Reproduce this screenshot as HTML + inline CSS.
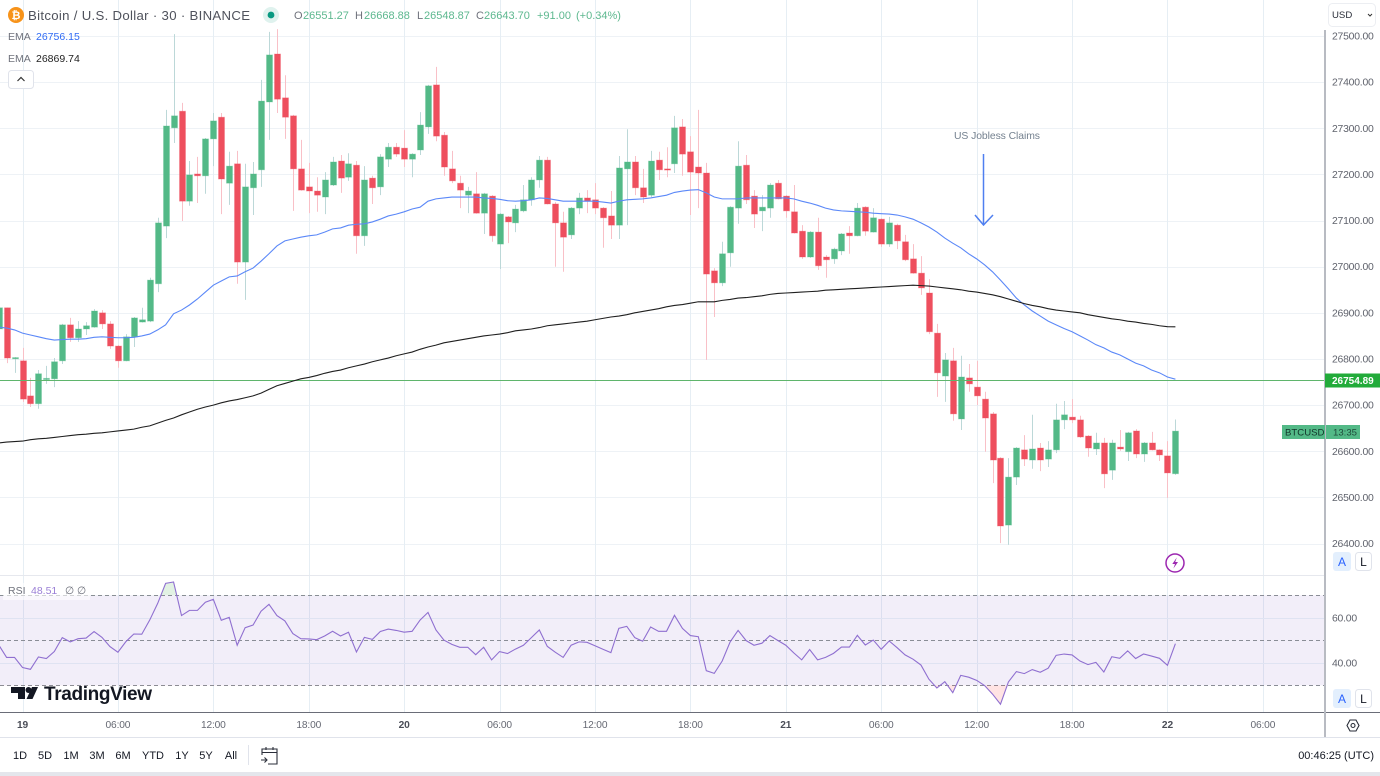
<!DOCTYPE html>
<html lang="en">
<head>
<meta charset="utf-8">
<title>Bitcoin / U.S. Dollar chart</title>
<style>
html,body{margin:0;padding:0;background:#fff;width:1380px;height:776px;overflow:hidden}
svg{display:block;font-family:"Liberation Sans",Arial,sans-serif}
</style>
</head>
<body>
<svg id="chart" xmlns="http://www.w3.org/2000/svg" width="1380" height="776" viewBox="0 0 1380 776">
  <rect width="1380" height="776" fill="#ffffff"/>
  <g id="grid"></g>
  <rect id="rsiBand" fill="#7e57c2" fill-opacity="0.1"/>
  <g id="rsiGrid"></g>
  <g id="rsiLevels"></g>
  <g id="candles"></g>
  <line id="lastPriceLine" x1="0" x2="1325" stroke="#5fb56c" stroke-width="1"/>
  <path id="emaFast" fill="none" stroke="#5b88f8" stroke-width="1.1"/>
  <path id="emaSlow" fill="none" stroke="#1f1f1f" stroke-width="1.1"/>
  <defs>
    <clipPath id="aboveClip"><rect id="aboveRect" x="0" y="575" width="1325"/></clipPath>
    <clipPath id="belowClip"><rect id="belowRect" x="0" width="1325"/></clipPath>
  </defs>
  <path id="rsiOver" fill="#4caf50" fill-opacity="0.16" clip-path="url(#aboveClip)"/>
  <path id="rsiUnder" fill="#ff5252" fill-opacity="0.16" clip-path="url(#belowClip)"/>
  <path id="rsiLine" fill="none" stroke="#8f6fd0" stroke-width="1.1"/>

  <line x1="0" x2="1325" y1="575.5" y2="575.5" stroke="#e6e8ee"/>
  <line x1="0" x2="1380" y1="712.5" y2="712.5" stroke="#6a6d78"/>
  <line x1="0" x2="1380" y1="737.5" y2="737.5" stroke="#e0e3eb"/>
  <line x1="1325" x2="1325" y1="30" y2="737" stroke="#b8bbc2" stroke-width="2"/>
  <rect x="0" y="772" width="1380" height="4" fill="#e4e6ec"/>

  <g id="priceAxis" font-size="10.4" letter-spacing="-0.22" fill="#5f626c"></g>
  <g id="rsiAxis" font-size="10.4" letter-spacing="-0.22" fill="#5f626c"></g>
  <g id="timeAxis" font-size="10.2" letter-spacing="-0.15" fill="#666973"></g>

  <!-- header -->
  <g>
    <circle cx="16" cy="15" r="8" fill="#f7931a"/>
    <text x="16" y="19" font-size="11" font-weight="bold" fill="#fff" text-anchor="middle">₿</text>
  </g>
  <text x="28" y="20" font-size="13.2" fill="#4f525c" textLength="222" lengthAdjust="spacing">Bitcoin / U.S. Dollar · 30 · BINANCE</text>
  <g>
    <circle cx="271" cy="15" r="8" fill="#dff2ee"/>
    <circle cx="271" cy="15" r="3.4" fill="#089981"/>
  </g>
  <g font-size="11" fill="#5db88f">
    <text x="294" y="19" fill="#6f727c">O</text><text x="303" y="19">26551.27</text>
    <text x="355" y="19" fill="#6f727c">H</text><text x="364" y="19">26668.88</text>
    <text x="417" y="19" fill="#6f727c">L</text><text x="424" y="19">26548.87</text>
    <text x="476" y="19" fill="#6f727c">C</text><text x="484" y="19">26643.70</text>
    <text x="537" y="19">+91.00</text>
    <text x="576" y="19">(+0.34%)</text>
  </g>
  <g font-size="10.5">
    <text x="8" y="40" fill="#6f727c">EMA</text>
    <text x="36" y="40" fill="#2f6bf5">26756.15</text>
  </g>
  <g font-size="10.5">
    <text x="8" y="62" fill="#6f727c">EMA</text>
    <text x="36" y="62" fill="#1f1f1f">26869.74</text>
  </g>
  <g>
    <rect x="8.5" y="70.5" width="25" height="18" rx="3" fill="#fff" stroke="#e0e3eb"/>
    <path d="M17.5 81 L21 77.5 L24.5 81" fill="none" stroke="#333" stroke-width="1.2"/>
  </g>
  <g>
    <rect x="1328.5" y="3.5" width="47" height="23" rx="4" fill="#fff" stroke="#eceef2"/>
    <text x="1332" y="18" font-size="9.6" fill="#2a2e39">USD</text>
    <path d="M1368 14 L1370 16 L1372 14" fill="none" stroke="#333" stroke-width="1"/>
  </g>

  <!-- annotation -->
  <text x="954" y="139" font-size="10.4" fill="#74818f" textLength="86" lengthAdjust="spacing">US Jobless Claims</text>
  <g fill="none" stroke="#4f7ff0" stroke-width="1.5">
    <path d="M983.5 154 L983.5 225"/>
    <path d="M975 215 L983.5 225 L993 215"/>
  </g>

  <!-- last price tags -->
  <g>
    <rect id="lastPriceRect" x="1325" width="55" height="14" fill="#22ab3a"/>
    <text id="lastPriceText" x="1332" font-size="10" font-weight="bold" fill="#fff"></text>
  </g>
  <g>
    <rect x="1282" y="425" width="43" height="14" fill="#53b987"/>
    <rect x="1326" y="425" width="34" height="14" fill="#53b987"/>
    <text x="1285" y="435.5" font-size="9.6" fill="#12352a">BTCUSD</text>
    <text x="1333" y="435.5" font-size="9.6" fill="#1f4a3a">13:35</text>
  </g>

  <!-- lightning -->
  <g>
    <circle cx="1175" cy="563" r="9" fill="#fff" stroke="#9c27b0" stroke-width="1.5"/>
    <path d="M1176.8 557.5 L1172.3 564 L1175 564 L1173.4 568.5 L1178 562 L1175.2 562 Z" fill="#9c27b0"/>
  </g>

  <!-- scale buttons -->
  <g>
    <rect x="1333" y="552" width="18" height="19" rx="3" fill="#e3effd"/>
    <text x="1342" y="566" font-size="12" fill="#2962ff" text-anchor="middle">A</text>
  </g>
  <g>
    <rect x="1355.5" y="552.5" width="16" height="18" rx="3" fill="#fff" stroke="#e0e3eb"/>
    <text x="1363.5" y="566" font-size="12" fill="#131722" text-anchor="middle">L</text>
  </g>
  <g>
    <rect x="1333" y="689" width="18" height="19" rx="3" fill="#e3effd"/>
    <text x="1342" y="703" font-size="12" fill="#2962ff" text-anchor="middle">A</text>
  </g>
  <g>
    <rect x="1355.5" y="689.5" width="16" height="18" rx="3" fill="#fff" stroke="#e0e3eb"/>
    <text x="1363.5" y="703" font-size="12" fill="#131722" text-anchor="middle">L</text>
  </g>
  <g fill="none" stroke="#2a2e39" stroke-width="1.1">
    <path d="M1347 725.5 L1350 720 L1356 720 L1359 725.5 L1356 731 L1350 731 Z"/>
    <circle cx="1353" cy="725.5" r="2"/>
  </g>

  <!-- RSI legend -->
  <rect x="3" y="583" width="87" height="17" fill="#ffffff" fill-opacity="0.6"/>
  <g font-size="10.5">
    <text x="8" y="594" fill="#6f727c">RSI</text>
    <text x="31" y="594" fill="#9a7fd6">48.51</text>
    <text x="65" y="594" fill="#6f727c">∅</text>
    <text x="77" y="594" fill="#6f727c">∅</text>
  </g>

  <!-- logo -->
  <g>
    <path d="M11 687 H25 V699 H18 V693 H11 Z" fill="#131722"/>
    <circle cx="28.5" cy="690" r="3" fill="#131722"/>
    <path d="M32 687 H38 L32.5 699 H26.5 Z" fill="#131722"/>
    <text x="44" y="700" font-size="19" font-weight="bold" fill="#131722" textLength="108" lengthAdjust="spacing">TradingView</text>
  </g>

  <!-- bottom toolbar -->
  <g id="rangeButtons" font-size="11" fill="#131722" text-anchor="middle">
    <text x="20" y="759">1D</text>
    <text x="45" y="759">5D</text>
    <text x="71" y="759">1M</text>
    <text x="97" y="759">3M</text>
    <text x="123" y="759">6M</text>
    <text x="153" y="759">YTD</text>
    <text x="182" y="759">1Y</text>
    <text x="206" y="759">5Y</text>
    <text x="231" y="759">All</text>
  </g>
  <line x1="248.5" x2="248.5" y1="745" y2="765" stroke="#e0e3eb"/>
  <g fill="none" stroke="#2a2e39" stroke-width="1.1">
    <path d="M262 755 V749 H277 V764 H268"/>
    <path d="M262 752.5 H277 M266 747 V750 M273 747 V750"/>
    <path d="M261 760 H267 M264.5 757.5 L267 760 L264.5 762.5"/>
  </g>
  <text x="1374" y="759" font-size="11" fill="#131722" text-anchor="end">00:46:25 (UTC)</text>
</svg>

<script>
const opens = [
26865,26911,26801,26796,26720,26703,26756,26757,26796,26874,
26846,26865,26869,26900,26876,26828,26796,26848,26880,26882,
26963,27088,27301,27337,27142,27201,27197,27277,27324,27181,
27223,27010,27171,27210,27357,27461,27366,27327,27212,27173,
27164,27151,27177,27229,27194,27220,27067,27192,27173,27233,
27259,27257,27233,27253,27303,27394,27285,27212,27181,27155,
27158,27116,27153,27049,27108,27095,27121,27145,27188,27231,
27136,27095,27069,27127,27149,27145,27127,27110,27090,27212,
27227,27171,27155,27231,27212,27223,27303,27249,27216,27203,
26991,26965,27030,27127,27220,27153,27121,27127,27181,27153,
27119,27077,27021,27075,27021,27017,27034,27073,27067,27129,
27075,27103,27049,27090,27054,27017,26986,26943,26856,26763,
26796,26670,26759,26739,26713,26681,26585,26440,26544,26603,
26581,26607,26583,26603,26668,26674,26668,26633,26605,26618,
26559,26609,26599,26644,26594,26618,26603,26590,26551.27];
const highs = [
26915,26911,26804,26824,26759,26776,26785,26802,26876,26889,
26882,26880,26908,26906,26882,26830,26854,26891,26911,26976,
27106,27340,27504,27355,27229,27238,27279,27333,27333,27249,
27251,27223,27227,27405,27509,27515,27415,27329,27275,27225,
27194,27205,27238,27242,27246,27229,27218,27197,27244,27268,
27268,27296,27246,27335,27394,27433,27292,27251,27197,27173,
27205,27160,27155,27116,27110,27134,27177,27194,27240,27238,
27140,27119,27129,27160,27166,27181,27129,27164,27240,27298,
27240,27212,27251,27249,27259,27327,27320,27283,27340,27225,
26997,27054,27131,27272,27242,27166,27155,27181,27188,27155,
27177,27090,27077,27106,27025,27041,27073,27088,27138,27131,
27127,27105,27108,27093,27069,27049,27023,26973,26876,26813,
26824,26807,26789,26796,26729,26685,26587,26585,26609,26635,
26679,26618,26622,26703,26709,26713,26677,26635,26640,26629,
26625,26646,26642,26648,26620,26642,26604,26622,26668.88];
const lows = [
26852,26791,26770,26707,26696,26692,26746,26739,26789,26837,
26837,26852,26868,26865,26822,26781,26795,26826,26879,26880,
26945,27062,27268,27099,27132,27138,27158,27218,27114,27134,
26963,26928,27112,27173,27275,27333,27277,27121,27165,27116,
27119,27114,27175,27160,27186,27028,27045,27136,27155,27216,
27238,27216,27194,27242,27288,27272,27197,27181,27127,27116,
27115,27071,27054,26995,27051,27075,27118,27132,27171,27135,
27000,26989,27060,27114,27116,27114,27041,27060,27060,27090,
27155,27138,27151,27188,27194,27203,27197,27112,27127,26798,
26891,26958,27000,27093,27136,27084,27077,27106,27146,27106,
27072,27017,27019,26993,26976,27006,27025,27028,27066,27067,
27074,27043,27043,27038,27012,26985,26939,26854,26718,26707,
26666,26646,26729,26700,26599,26531,26401,26397,26527,26568,
26562,26557,26566,26596,26648,26661,26629,26588,26592,26520,
26538,26601,26579,26585,26577,26602,26579,26499,26548.87];
const closes = [
26911,26802,26803,26713,26703,26768,26758,26794,26874,26846,
26865,26872,26904,26876,26828,26796,26848,26889,26885,26971,
27095,27305,27327,27142,27199,27197,27277,27316,27190,27218,
27010,27173,27201,27359,27459,27363,27324,27212,27166,27164,
27155,27188,27227,27192,27223,27067,27188,27171,27238,27259,
27244,27233,27244,27307,27392,27283,27216,27186,27166,27164,
27116,27158,27067,27114,27097,27125,27145,27188,27231,27136,
27095,27064,27127,27149,27142,27127,27106,27090,27214,27227,
27171,27151,27229,27210,27210,27301,27244,27205,27203,26984,
26965,27028,27129,27218,27145,27114,27129,27177,27147,27121,
27073,27021,27075,27002,27015,27038,27071,27067,27127,27077,
27106,27049,27095,27056,27015,26986,26954,26859,26770,26798,
26681,26761,26746,26720,26672,26581,26438,26544,26607,26583,
26605,26581,26603,26668,26679,26668,26631,26607,26618,26551,
26618,26605,26640,26594,26618,26603,26592,26553,26643.70];
const emaFastValues = [
26869,26867,26863,26856,26852,26848,26844,26841,26842,26843,
26843,26844,26847,26848,26847,26846,26846,26847,26850,26854,
26863,26874,26898,26906,26917,26930,26945,26960,26969,26978,
26980,26989,26997,27012,27028,27045,27056,27060,27064,27067,
27069,27075,27082,27084,27090,27092,27093,27097,27103,27110,
27114,27119,27125,27129,27142,27147,27149,27151,27151,27151,
27151,27149,27148,27146,27143,27142,27143,27145,27149,27148,
27145,27142,27142,27142,27142,27142,27140,27138,27142,27145,
27146,27147,27149,27152,27155,27161,27164,27166,27167,27160,
27151,27147,27147,27147,27149,27149,27149,27149,27149,27149,
27147,27142,27138,27133,27127,27123,27121,27120,27119,27118,
27116,27115,27114,27112,27108,27103,27095,27086,27075,27062,
27051,27041,27028,27017,27004,26989,26971,26952,26932,26917,
26904,26893,26882,26874,26866,26859,26850,26841,26831,26824,
26815,26809,26800,26791,26785,26776,26770,26761,26756.15];
const emaSlowValues = [
26618,26620,26621,26622,26625,26627,26628,26630,26632,26634,
26636,26637,26639,26640,26642,26644,26646,26648,26652,26655,
26661,26667,26672,26679,26685,26691,26696,26700,26705,26709,
26712,26716,26720,26726,26734,26742,26747,26752,26757,26760,
26764,26769,26773,26776,26781,26785,26789,26794,26798,26802,
26807,26811,26815,26821,26826,26830,26835,26838,26841,26844,
26847,26850,26852,26854,26857,26861,26863,26865,26868,26872,
26874,26876,26878,26880,26882,26885,26888,26891,26893,26896,
26900,26903,26906,26909,26913,26916,26918,26921,26924,26924,
26924,26927,26929,26932,26933,26935,26937,26940,26942,26943,
26944,26945,26946,26947,26949,26950,26951,26952,26953,26954,
26955,26956,26957,26958,26959,26960,26959,26958,26956,26954,
26952,26950,26947,26945,26942,26939,26935,26930,26925,26920,
26916,26913,26909,26906,26904,26902,26900,26896,26893,26890,
26887,26885,26882,26880,26877,26875,26872,26870,26869.74];
const rsiValues = [
48,42.4,42.4,37.9,37.1,42.6,41.9,45,51.2,49.3,
50.7,51,53.9,51.3,47.2,44.7,49.4,52.8,52.7,59,
66.4,75.3,75.9,61,63.3,63.3,66.9,68.2,58.9,60.2,
47.8,55.6,56.8,62.9,66,61,58.6,53,50.7,50.6,
50.3,51.9,54,51.9,53.6,44.8,51.3,50.4,53.9,55,
54.4,53.6,54,59,62.4,54.6,50.1,48.2,46.9,46.9,
43.6,46.9,41.3,45,44.1,46.1,47.8,51.2,54.6,47.3,
44.7,42.4,47.8,49.3,49.1,47.6,46,44.5,55.3,56.2,
51.2,49.6,55.9,54,54,61.1,55.3,52.1,51.6,36.5,
35.3,40.8,49.3,54.4,49.9,47.8,48.7,52.1,49.9,47.8,
44.4,41.3,45.9,41.3,42.4,44.2,47,47,52.2,47.9,
50.1,46,49.7,46.7,43.5,41.6,39,32.7,28.8,31.6,
26.7,34.4,33.6,32.2,29.9,26.1,21.6,31.5,36.1,35.2,
37,35.8,37.6,43.3,43.9,43.5,40.8,39.2,40.2,35.9,
42.7,42,45.3,41.9,43.9,43,42,38.9,48.51];
const priceTicks = [27500,27400,27300,27200,27100,27000,26900,26800,26700,26600,26500,26400];
const rsiTicks = [60,40];
const rsiLevels = [70,50,30];
const timeLabels = ['19','06:00','12:00','18:00','20','06:00','12:00','18:00','21','06:00','12:00','18:00','22','06:00'];
const lastPrice = 26754.89;

const NS = 'http://www.w3.org/2000/svg';
const pxPerDollar = 0.4614;
const barStep = 7.951;
const firstBarX = -1.35;
const barsPerTick = 12;
const firstTickBar = 3;
const xOfBar = k => firstBarX + barStep * k;
const yOfPrice = p => 36 + (27500 - p) * pxPerDollar;
const yOfRsi = v => 640.3 + (50 - v) * 2.25;
const xOfTick = j => xOfBar(firstTickBar + barsPerTick * j);

function make(tag, attrs, parent) {
  const el = document.createElementNS(NS, tag);
  for (const key in attrs) el.setAttribute(key, attrs[key]);
  parent.appendChild(el);
  return el;
}
function linePath(values, yFn) {
  return values.map((v, k) => (k ? 'L' : 'M') + xOfBar(k).toFixed(2) + ' ' + yFn(v).toFixed(2)).join(' ');
}

const gridG = document.getElementById('grid');
priceTicks.forEach(p => {
  const y = Math.round(yOfPrice(p)) + 0.5;
  const hl = make('line', {x1: 0, x2: 1325, y1: y, y2: y, stroke: '#eef2f6'}, gridG);
  
  
});
timeLabels.forEach((t, j) => {
  const x = Math.round(xOfTick(j)) + 0.5;
  const vl = make('line', {x1: x, x2: x, y1: 0, y2: 712, stroke: '#e6eef4'}, gridG);
  
  
});

const band = document.getElementById('rsiBand');
band.setAttribute('x', 0);
band.setAttribute('width', 1325);
band.setAttribute('y', yOfRsi(rsiLevels[0]));
band.setAttribute('height', yOfRsi(rsiLevels[2]) - yOfRsi(rsiLevels[0]));

const rsiGridG = document.getElementById('rsiGrid');
rsiTicks.forEach(v => {
  const y = Math.round(yOfRsi(v)) + 0.5;
  const rl = make('line', {x1: 0, x2: 1325, y1: y, y2: y, stroke: '#dfe3f2'}, rsiGridG);
  
  
});
const rsiLevelsG = document.getElementById('rsiLevels');
rsiLevels.forEach(v => {
  const y = Math.round(yOfRsi(v)) + 0.5;
  const ll = make('line', {x1: 0, x2: 1325, y1: y, y2: y, stroke: '#8a8d96', 'stroke-dasharray': '4 3'}, rsiLevelsG);
  
  
});

const candlesG = document.getElementById('candles');
closes.forEach((c, k) => {
  const o = opens[k], h = highs[k], l = lows[k];
  const up = c >= o;
  const x = xOfBar(k);
  const g = make('g', {}, candlesG);
  
  
  const wx = Math.round(x) + 0.5;
  make('line', {x1: wx, x2: wx, y1: yOfPrice(h), y2: yOfPrice(l), stroke: up ? '#bcd8d8' : '#f9c0c7', 'stroke-width': 1}, g);
  const top = yOfPrice(Math.max(o, c));
  const bot = yOfPrice(Math.min(o, c));
  const bodyH = Math.max(bot - top, 1.2);
  const fill = up ? '#53b987' : '#ee4f5e';
  make('rect', {x: wx - 3, y: top, width: 6, height: bodyH, fill: fill, stroke: fill, 'stroke-opacity': 0.28, 'stroke-width': 1}, g);
});

document.getElementById('emaFast').setAttribute('d', linePath(emaFastValues, yOfPrice));
document.getElementById('emaSlow').setAttribute('d', linePath(emaSlowValues, yOfPrice));
document.getElementById('rsiLine').setAttribute('d', linePath(rsiValues, yOfRsi));

const lastY = Math.round(yOfPrice(lastPrice)) + 0.5;
const lastLine = document.getElementById('lastPriceLine');
lastLine.setAttribute('y1', lastY);
lastLine.setAttribute('y2', lastY);
document.getElementById('lastPriceRect').setAttribute('y', lastY - 7);
const lastText = document.getElementById('lastPriceText');
lastText.setAttribute('y', lastY + 3.5);
lastText.textContent = lastPrice.toFixed(2);

const overY = yOfRsi(rsiLevels[0]);
const underY = yOfRsi(rsiLevels[2]);
const aboveRect = document.getElementById('aboveRect');
aboveRect.setAttribute('height', overY - 575);
const belowRect = document.getElementById('belowRect');
belowRect.setAttribute('y', underY);
belowRect.setAttribute('height', 712 - underY);
const lastBarX = xOfBar(rsiValues.length - 1).toFixed(2);
document.getElementById('rsiOver').setAttribute('d', linePath(rsiValues, yOfRsi) + ' L' + lastBarX + ' ' + overY + ' L' + firstBarX + ' ' + overY + ' Z');
document.getElementById('rsiUnder').setAttribute('d', linePath(rsiValues, yOfRsi) + ' L' + lastBarX + ' ' + underY + ' L' + firstBarX + ' ' + underY + ' Z');

const priceAxisG = document.getElementById('priceAxis');
priceTicks.forEach(p => {
  const t = make('text', {x: 1332, y: yOfPrice(p) + 3.5}, priceAxisG);
  
  
  t.textContent = p.toFixed(2);
});
const rsiAxisG = document.getElementById('rsiAxis');
rsiTicks.forEach(v => {
  const t = make('text', {x: 1332, y: yOfRsi(v) + 3.5}, rsiAxisG);
  
  
  t.textContent = v.toFixed(2);
});
const timeAxisG = document.getElementById('timeAxis');
timeLabels.forEach((label, j) => {
  const isDay = label.indexOf(':') < 0;
  const t = make('text', {x: xOfTick(j), y: 728, 'text-anchor': 'middle'}, timeAxisG);
  
  
  if (isDay) {
    t.setAttribute('font-weight', 'bold');
    t.setAttribute('fill', '#4a4d57');
  }
  t.textContent = label;
});
</script>
</body>
</html>
